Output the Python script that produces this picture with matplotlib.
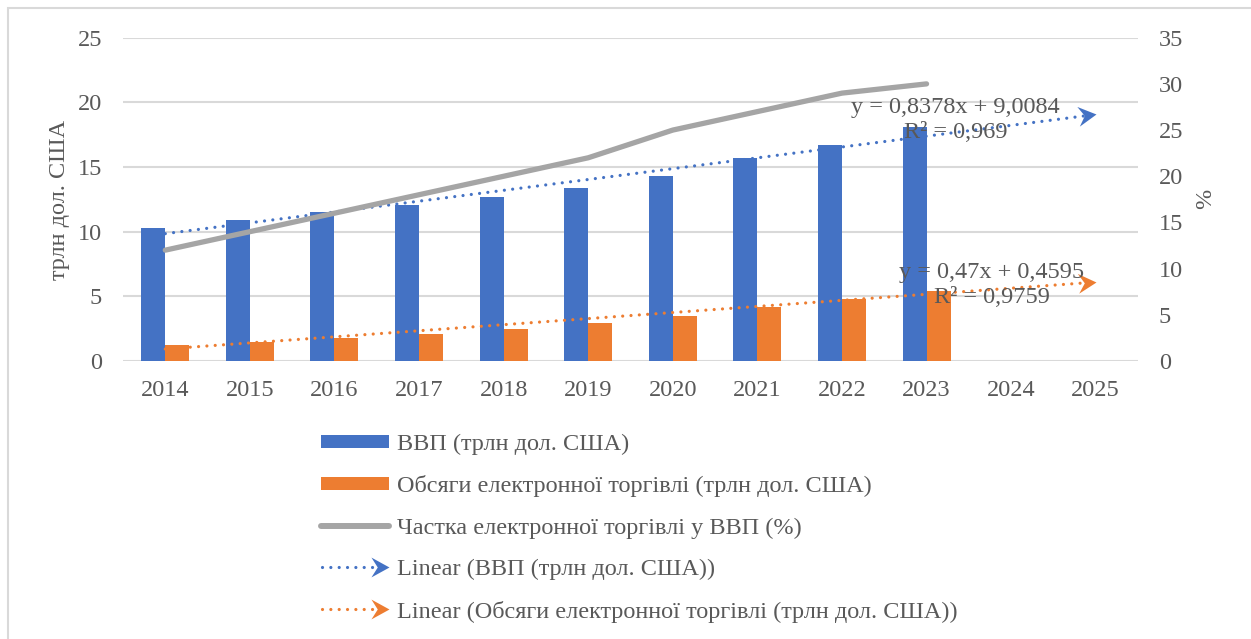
import numpy as np
import matplotlib
matplotlib.use('Agg')
import matplotlib.pyplot as plt
from matplotlib.lines import Line2D
from matplotlib.markers import MarkerStyle
from matplotlib.path import Path
from matplotlib.patches import Rectangle
from matplotlib.transforms import Affine2D
from matplotlib.legend_handler import HandlerBase

plt.rcParams['font.family'] = ['Liberation Serif', 'DejaVu Serif']
plt.rcParams['font.size'] = 17.5

# data
years = ['2014', '2015', '2016', '2017', '2018', '2019', '2020', '2021',
         '2022', '2023', '2024', '2025']
gdp = [10.3, 10.9, 11.5, 12.1, 12.7, 13.4, 14.3, 15.7, 16.7, 18.1]
ecom = [1.2, 1.5, 1.8, 2.1, 2.5, 2.9, 3.5, 4.2, 4.8, 5.4]
share = [12, 14, 16, 18, 20, 22, 25, 27, 29, 30]

# trend lines as shown by excel
gdp_slope, gdp_icpt, gdp_r2 = 0.8378, 9.0084, 0.969
ecom_slope, ecom_icpt, ecom_r2 = 0.47, 0.4595, 0.9759

lab_gdp = 'ВВП (трлн дол. США)'
lab_ecom = 'Обсяги електронної торгівлі (трлн дол. США)'
lab_share = 'Частка електронної торгівлі у ВВП (%)'

blue = '#4472C4'
orange = '#ED7D31'
grey = '#A5A5A5'
txt = '#595959'

W, H = 1251, 639
fig = plt.figure(figsize=(W / 100, H / 100), dpi=100)
ax = fig.add_axes([123 / W, 1 - 361 / H, (1138 - 123) / W, (361 - 37.7) / H])
ax2 = ax.twinx()

x = np.arange(len(years))
xb = x[:len(gdp)]
bw = 0.284
b1 = ax.bar(xb - bw / 2, gdp, bw, color=blue, label=lab_gdp, zorder=2)
b2 = ax.bar(xb + bw / 2, ecom, bw, color=orange, label=lab_ecom, zorder=2)

ax.set_xlim(-0.5, len(years) - 0.5)
ax.set_ylim(0, 25)
ax.set_yticks(range(0, 26, 5))
ax.set_xticks(x)
ax.set_xticklabels(years)
ax2.set_ylim(0, 35)
ax2.set_yticks(range(0, 36, 5))

ax.grid(axis='y', color='#D9D9D9', lw=1.5, zorder=0)
ax.set_axisbelow(True)
for a in (ax, ax2):
    for s in a.spines.values():
        s.set_visible(False)
ax.tick_params(axis='x', length=0, pad=14, labelcolor=txt)
ax.tick_params(axis='y', length=0, pad=15, labelcolor=txt)
ax2.tick_params(axis='y', length=0, pad=15, labelcolor=txt)

# stealth arrow head, tip at origin
head_path = Path([(0, 0), (-1, 0.55), (-0.65, 0), (-1, -0.55), (0, 0)],
                 [Path.MOVETO, Path.LINETO, Path.LINETO, Path.LINETO,
                  Path.CLOSEPOLY])
dots = (0, (0.01, 2.6))
dot_lw = 2.3
head_ms = 26

trends = []
for slope, icpt, col in [(gdp_slope, gdp_icpt, blue),
                         (ecom_slope, ecom_icpt, orange)]:
    ty = slope * (x + 1) + icpt
    ax.plot(x, ty, color=col, lw=dot_lw, linestyle=dots,
            dash_capstyle='round', zorder=3)
    p0 = ax.transData.transform((x[-2], ty[-2]))
    p1 = ax.transData.transform((x[-1], ty[-1]))
    ang = np.degrees(np.arctan2(p1[1] - p0[1], p1[0] - p0[0]))
    mk = MarkerStyle(head_path, transform=Affine2D().rotate_deg(ang))
    ax.plot([x[-1]], [ty[-1]], marker=mk, ms=head_ms, color=col, mew=0,
            linestyle='none', zorder=3)
    trends.append(Line2D([], [], color=col))

ax2.plot(xb, share, color=grey, lw=3.8, solid_capstyle='round',
         solid_joinstyle='round', label=lab_share, zorder=4)

# trend equations
def fmt(v):
    return str(v).replace('.', ',')

ax2.text(9.346, 18.62, 'y = ' + fmt(gdp_slope) + 'x + ' + fmt(gdp_icpt) +
         '\nR² = ' + fmt(gdp_r2), transform=ax.transData, ha='center',
         va='center', multialignment='center', color=txt, linespacing=1.25,
         zorder=5)
ax2.text(9.77, 5.88, 'y = ' + fmt(ecom_slope) + 'x + ' + fmt(ecom_icpt) +
         '\nR² = ' + fmt(ecom_r2), transform=ax.transData, ha='center',
         va='center', multialignment='center', color=txt, linespacing=1.25,
         zorder=5)

# axis titles
fig.text(60 / W, 1 - 200 / H, 'трлн дол. США', rotation=90, ha='center',
         va='center', color=txt)
fig.text(1206 / W, 1 - 199 / H, '%', rotation=90, ha='center',
         va='center', color=txt)


class TrendHandler(HandlerBase):
    def create_artists(self, legend, orig_handle, xdescent, ydescent,
                       width, height, fontsize, trans):
        y = height / 2 - ydescent
        x0 = -xdescent
        x1 = width - xdescent
        col = orig_handle.get_color()
        ln = Line2D([x0 + 1, x1 - 11], [y, y], color=col, lw=dot_lw,
                    linestyle=dots, dash_capstyle='round')
        hd = Line2D([x1], [y], marker=MarkerStyle(head_path), ms=head_ms,
                    color=col, mew=0, linestyle='none')
        ln.set_transform(trans)
        hd.set_transform(trans)
        return [ln, hd]


gline = Line2D([], [], color=grey, lw=4.3, solid_capstyle='round')
handles = [b1, b2, gline] + trends
labels = [lab_gdp, lab_ecom, lab_share,
          'Linear (' + lab_gdp + ')', 'Linear (' + lab_ecom + ')']
fig.legend(handles, labels, loc='upper left',
           bbox_to_anchor=(320.7 / W, 1 - 434 / H),
           bbox_transform=fig.transFigure, frameon=False, borderpad=0,
           borderaxespad=0, handlelength=2.82, handleheight=0.44,
           handletextpad=0.3, labelspacing=0.835, labelcolor=txt,
           handler_map={trends[0]: TrendHandler(), trends[1]: TrendHandler()})

# outer chart border
fig.add_artist(Rectangle((8 / W, -0.1), 1.2, 1 - 8 / H + 0.1,
                         transform=fig.transFigure, fill=False,
                         ec='#D9D9D9', lw=1.5))

fig.savefig('out.png', dpi=100)
